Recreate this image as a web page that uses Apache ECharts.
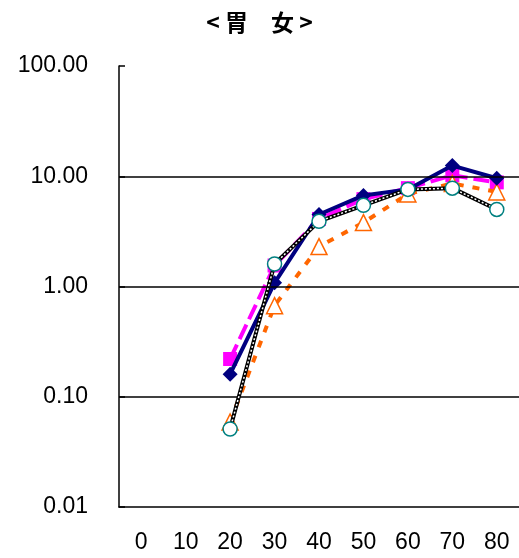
<!DOCTYPE html>
<html>
<head>
<meta charset="utf-8">
<script src="https://cdn.jsdelivr.net/npm/echarts@6/dist/echarts.min.js"></script>
<style>
html,body{margin:0;padding:0;background:#fff;}
#main{width:519px;height:558px;}
</style>
</head>
<body>
<div id="main"></div>
<script>
// age groups
var ages = ['0', '10', '20', '30', '40', '50', '60', '70', '80'];
// four series (null = no point)
var navyVals = [null, null, 0.16, 1.08, 4.5, 6.7, 7.6, 12.5, 9.6];
var pinkVals = [null, null, 0.22, 1.55, 4.1, 6.2, 7.8, 10.2, 8.8];
var orangeVals = [null, null, 0.059, 0.67, 2.3, 3.8, 6.9, 8.6, 7.2];
var tealVals = [null, null, 0.051, 1.6, 3.9, 5.45, 7.6, 7.8, 5.0];
var gridLines = [0.1, 1, 10];

var chart = echarts.init(document.getElementById('main'));

var font = 'Liberation Sans, Arial, sans-serif';

var option = {
    backgroundColor: '#fff',
    animation: false,
    title: {
        text: '< 胃　女 >',
        left: 'center',
        top: 6,
        textStyle: {
            fontSize: 23,
            fontWeight: 'bold',
            color: '#000',
            fontFamily: 'Noto Sans CJK JP, sans-serif'
        }
    },
    grid: {left: 119, top: 66, right: 0, bottom: 51},
    xAxis: {
        type: 'category',
        data: ages,
        boundaryGap: true,
        axisLine: {lineStyle: {color: '#000', width: 1.5}},
        axisTick: {inside: true, length: 5, lineStyle: {color: '#000', width: 1.5}},
        axisLabel: {fontSize: 23, color: '#000', margin: 24, fontFamily: font}
    },
    yAxis: {
        type: 'log',
        logBase: 10,
        min: 0.01,
        max: 100,
        axisLine: {show: true, lineStyle: {color: '#000', width: 1.5}},
        axisTick: {show: true, inside: true, length: 6, lineStyle: {color: '#000', width: 1.5}},
        splitLine: {show: false},
        axisLabel: {
            fontSize: 23, color: '#000', margin: 31, fontFamily: font,
            formatter: function (v) { return Number(v).toFixed(2); }
        }
    },
    series: [
        {
            type: 'line',
            data: pinkVals,
            z: 2,
            lineStyle: {color: '#ff00ff', width: 4, type: [16, 6]},
            symbol: 'rect',
            symbolSize: 14,
            itemStyle: {color: '#ff00ff'},
            markLine: {
                silent: true,
                symbol: ['none', 'none'],
                label: {show: false},
                lineStyle: {color: '#000', width: 1.5, type: 'solid'},
                data: gridLines.map(function (v) { return {yAxis: v}; })
            }
        },
        {
            type: 'line',
            data: orangeVals,
            z: 3,
            lineStyle: {color: '#ff6600', width: 4, type: [7, 9]},
            symbol: 'triangle',
            symbolSize: 16,
            itemStyle: {color: '#fff', borderColor: '#ff6600', borderWidth: 1.5}
        },
        {
            type: 'line',
            data: navyVals,
            z: 4,
            lineStyle: {color: '#000080', width: 4},
            symbol: 'diamond',
            symbolSize: [15, 15],
            itemStyle: {color: '#000080'}
        },
        {
            type: 'line',
            data: tealVals,
            z: 5,
            lineStyle: {color: '#000', width: 4},
            symbol: 'none'
        },
        {
            type: 'line',
            data: tealVals,
            z: 6,
            lineStyle: {color: '#fff', width: 1.5, type: [2, 2]},
            symbol: 'circle',
            symbolSize: 14,
            itemStyle: {color: '#fff', borderColor: '#008080', borderWidth: 1.5}
        }
    ]
};

chart.setOption(option);
</script>
</body>
</html>
